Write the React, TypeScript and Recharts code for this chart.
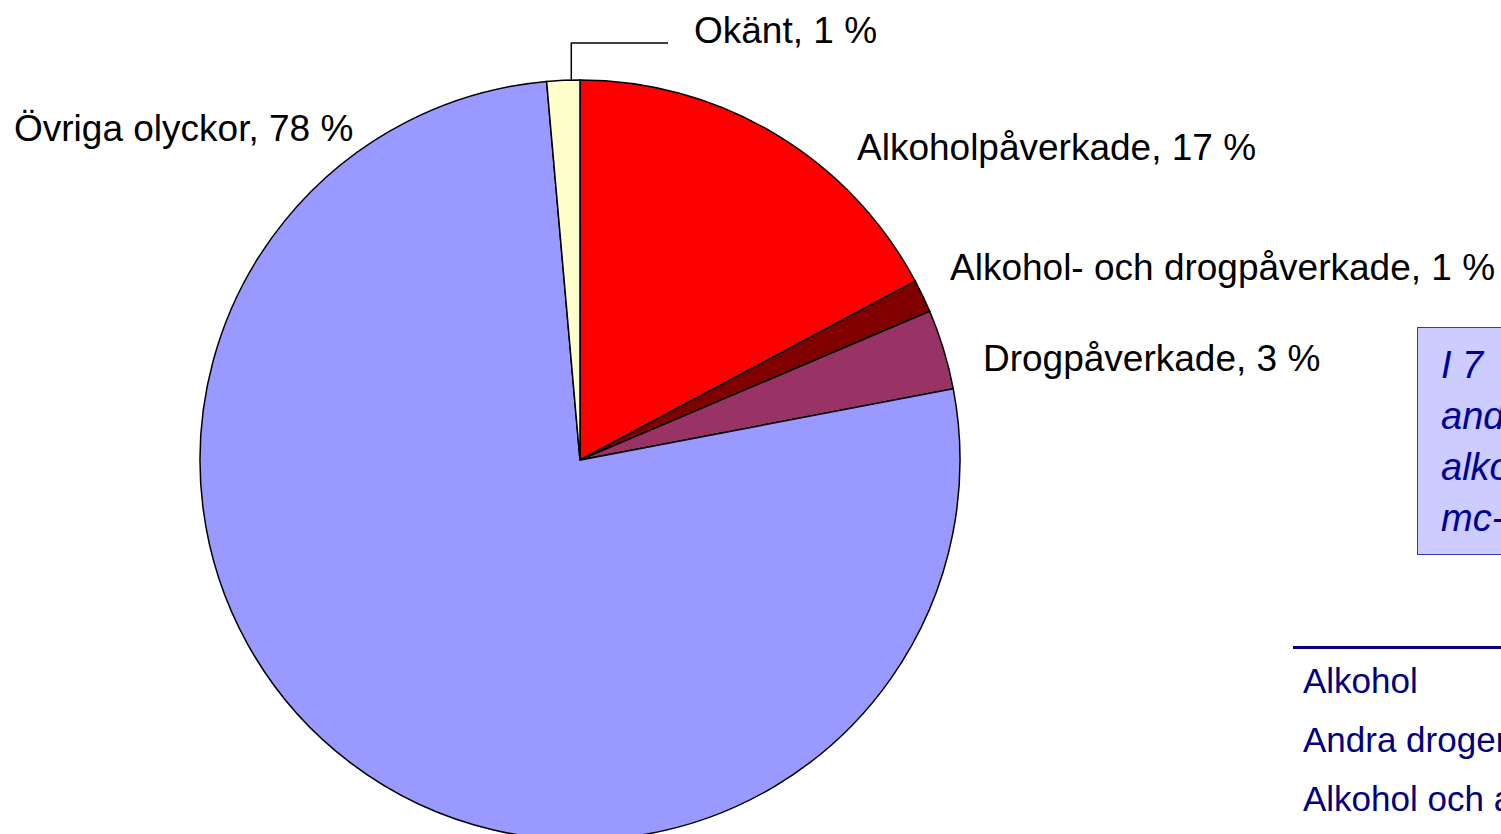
import { PieChart, Pie, Cell } from 'recharts';

// slices clockwise from 12 o'clock
const categories = [
  'Alkoholpåverkade',
  'Alkohol- och drogpåverkade',
  'Drogpåverkade',
  'Övriga olyckor',
  'Okänt',
];
const shares = [17.2, 1.4, 3.4, 76.6, 1.4];
// percentages as printed in the labels
const printedPct = [17, 1, 3, 78, 1];
const colors = ['#FF0000', '#800000', '#993366', '#9999FF', '#FFFFCC'];

const boxLines = ['I 7', 'and', 'alko', 'mc-f'];
const tableRows = ['Alkohol', 'Andra droger', 'Alkohol och andra droger'];

const data = categories.map((name, i) => ({ name, value: shares[i] }));

// label anchor (text left, baseline) per slice
const labelAt = [
  { x: 857, y: 160 },
  { x: 950, y: 280 },
  { x: 983, y: 371 },
  { x: 14, y: 141 },
  { x: 694, y: 43 },
];

const RAD = Math.PI / 180;

const renderLabel = (p: any) => {
  const { index, cx, cy, midAngle, outerRadius } = p;
  const pos = labelAt[index];
  const text = `${categories[index]}, ${printedPct[index]} %`;
  let leader = null;
  if (index === 4) {
    const ax = cx + outerRadius * Math.cos(-midAngle * RAD) + 8;
    const ay = cy + outerRadius * Math.sin(-midAngle * RAD);
    leader = (
      <polyline
        points={`${ax},${ay} ${ax},${pos.y} ${pos.x - 26},${pos.y}`}
        fill="none"
        stroke="#000"
        strokeWidth={1.5}
      />
    );
  }
  return (
    <g key={`lbl-${index}`}>
      {leader}
      <text x={pos.x} y={pos.y} fill="#000" fontSize={37} fontFamily="'Liberation Sans', Arial, sans-serif">
        {text}
      </text>
    </g>
  );
};

export default function App() {
  return (
    <div
      style={{
        position: 'fixed',
        left: 0,
        top: 0,
        width: 1501,
        height: 834,
        overflow: 'hidden',
        background: '#fff',
        fontFamily: "'Liberation Sans', Arial, sans-serif",
      }}
    >
      <PieChart width={1501} height={834} margin={{ top: 0, right: 0, bottom: 0, left: 0 }}>
        <Pie
          data={data}
          dataKey="value"
          cx={580}
          cy={460}
          outerRadius={380}
          startAngle={90}
          endAngle={-270}
          stroke="#000"
          strokeWidth={1.5}
          label={renderLabel}
          labelLine={false}
          isAnimationActive={false}
        >
          {data.map((d, i) => (
            <Cell key={d.name} fill={colors[i]} />
          ))}
        </Pie>
      </PieChart>

      <div
        style={{
          position: 'absolute',
          left: 1417,
          top: 327,
          width: 400,
          height: 228,
          background: '#CCCCFF',
          border: '1.5px solid #3333CC',
          boxSizing: 'border-box',
          padding: '12px 0 0 23px',
          color: '#000099',
          fontStyle: 'italic',
          fontSize: 38,
          lineHeight: '51px',
        }}
      >
        {boxLines.map((l) => (
          <div key={l}>{l}</div>
        ))}
      </div>

      <div
        style={{
          position: 'absolute',
          left: 1293,
          top: 646,
          width: 400,
          borderTop: '3px solid #000080',
        }}
      />
      {tableRows.map((r, i) => (
        <div
          key={r}
          style={{
            position: 'absolute',
            left: 1303,
            top: 661 + i * 59,
            fontSize: 35,
            lineHeight: '40px',
            color: '#000080',
            whiteSpace: 'nowrap',
          }}
        >
          {r}
        </div>
      ))}
    </div>
  );
}
